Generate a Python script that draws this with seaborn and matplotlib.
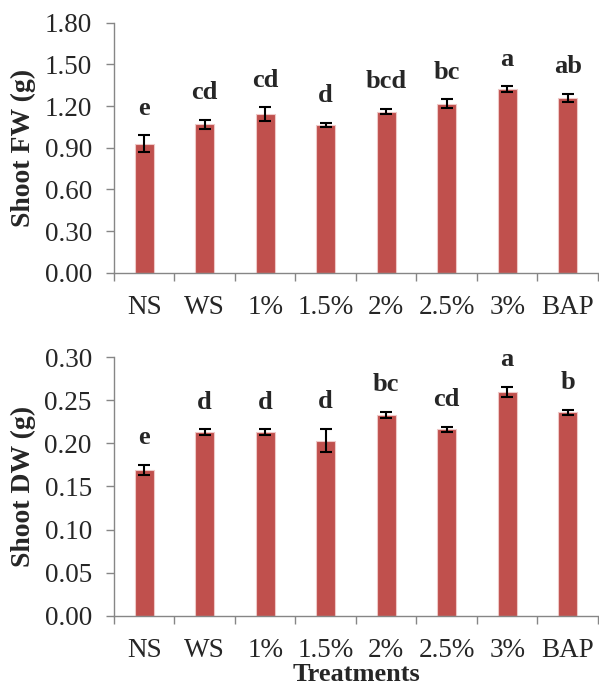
import matplotlib
matplotlib.use("Agg")
import matplotlib.pyplot as plt
import seaborn as sns
import numpy as np
import pandas as pd
from matplotlib.ticker import FixedLocator

# ---- data ----
treatments = ["NS", "WS", "1%", "1.5%", "2%", "2.5%", "3%", "BAP"]
fw_mean = [0.93, 1.07, 1.14, 1.065, 1.16, 1.215, 1.32, 1.257]
fw_err = [0.058, 0.033, 0.05, 0.015, 0.02, 0.032, 0.021, 0.029]
fw_letters = ["e", "cd", "cd", "d", "bcd", "bc", "a", "ab"]
dw_mean = [0.169, 0.2127, 0.2127, 0.203, 0.2328, 0.2165, 0.2598, 0.2362]
dw_err = [0.0058, 0.0035, 0.0035, 0.0135, 0.0035, 0.003, 0.0058, 0.003]
dw_letters = ["e", "d", "d", "d", "bc", "cd", "a", "b"]
fw_ticks = [0.00, 0.30, 0.60, 0.90, 1.20, 1.50, 1.80]
dw_ticks = [0.00, 0.05, 0.10, 0.15, 0.20, 0.25, 0.30]

sns.set_style("white")
plt.rcParams["font.family"] = ["Liberation Serif", "DejaVu Serif"]

BAR = "#C0504D"
AXC = "#868686"
TICKFS = 19.5

fig = plt.figure(figsize=(5.99, 6.87), dpi=100)
ax1 = fig.add_axes([0.1903, 0.603, 0.808, 0.364])
ax2 = fig.add_axes([0.1903, 0.1038, 0.808, 0.3762])


def panel(ax, means, errs, letters, ticks, ylabel, fmt, xlabel=None):
    df = pd.DataFrame({"t": treatments, "v": means})
    sns.barplot(data=df, x="t", y="v", order=treatments, color=BAR,
                saturation=1, width=0.31, edgecolor="#EFC9C8", linewidth=0.8,
                ax=ax, errorbar=None)
    x = np.arange(len(treatments))
    ax.errorbar(x, means, yerr=errs, fmt="none", ecolor="black",
                elinewidth=1.5, capsize=4.3, capthick=1.5, zorder=5)
    for xi, m, e, lab in zip(x, means, errs, letters):
        ax.annotate(lab, (xi, m + e), xytext=(0, 15), textcoords="offset points",
                    ha="center", va="baseline", fontsize=19, fontweight="bold")
    ax.set_xlim(-0.5, len(treatments) - 0.5)
    ax.set_ylim(ticks[0], ticks[-1])
    ax.set_yticks(ticks)
    ax.set_yticklabels([fmt.format(t) for t in ticks], fontsize=TICKFS)
    ax.set_xticks(x)
    ax.set_xticklabels(treatments, fontsize=TICKFS)
    ax.xaxis.set_minor_locator(FixedLocator(np.arange(-0.5, len(treatments), 1.0)))
    ax.tick_params(axis="x", which="major", length=0, pad=16)
    ax.tick_params(axis="x", which="minor", length=6, width=1, color=AXC, direction="out", bottom=True)
    ax.tick_params(axis="y", length=6, width=1, color=AXC, direction="out", left=True, pad=10)
    for s in ["top", "right"]:
        ax.spines[s].set_visible(False)
    for s in ["left", "bottom"]:
        ax.spines[s].set_color(AXC)
        ax.spines[s].set_linewidth(1)
    ax.set_ylabel(ylabel, fontsize=20, fontweight="bold", labelpad=6)
    if xlabel:
        ax.set_xlabel(xlabel, fontsize=19, fontweight="bold")
        ax.xaxis.set_label_coords(0.5, -0.226)
        ax.xaxis.label.set_va("center")
    else:
        ax.set_xlabel("")
    ax.grid(False)


panel(ax1, fw_mean, fw_err, fw_letters, fw_ticks, "Shoot FW (g)", "{:.2f}")
panel(ax2, dw_mean, dw_err, dw_letters, dw_ticks, "Shoot DW (g)", "{:.2f}", xlabel="Treatments")

fig.savefig("out.png", dpi=100)
